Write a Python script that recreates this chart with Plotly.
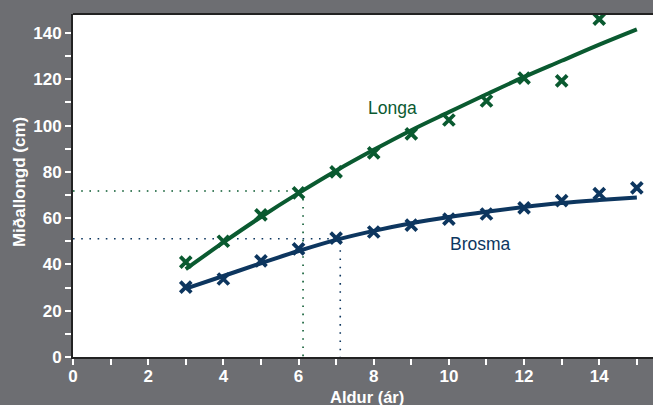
import plotly.graph_objects as go

# Data
ages = [3, 4, 5, 6, 7, 8, 9, 10, 11, 12, 13, 14]
longa_obs = [41, 50, 61.4, 70.9, 80, 88.2, 96.4, 102.4, 110.6, 120.5, 119.3, 146]
ages_b = [3, 4, 5, 6, 7, 8, 9, 10, 11, 12, 13, 14, 15]
brosma_obs = [30.2, 33.7, 41.5, 46.7, 51.4, 54, 57, 59.6, 61.8, 64.4, 67.6, 70.6, 73.1]

fit_ages = [3, 4, 5, 6, 7, 8, 9, 10, 11, 12, 13, 14, 15]
longa_fit = [38, 49.5, 60.5, 70.8, 80.5, 89.5, 98, 105.8, 113.5, 121, 128, 135, 141.6]
brosma_fit = [29.5, 35, 40.5, 45.8, 50.6, 54.5, 57.8, 60.5, 62.8, 64.8, 66.5, 67.8, 68.9]

longa_ref = (6.12, 71.7)
brosma_ref = (7.11, 51.1)

GREEN = "#0a5a30"
NAVY = "#0d365f"
BG = "#6d6e72"
FONT = "Liberation Sans, Arial, sans-serif"

fig = go.Figure()

# guide lines
for (rx, ry), col in [(longa_ref, GREEN), (brosma_ref, NAVY)]:
    fig.add_trace(go.Scatter(x=[0, rx, rx], y=[ry, ry, 0], mode="lines",
                             line=dict(color=col, width=1.6, dash="1.6px,6.6px"),
                             hoverinfo="skip", showlegend=False))

fig.add_trace(go.Scatter(x=fit_ages, y=longa_fit, mode="lines", line=dict(color=GREEN, width=4, shape="spline"), showlegend=False))
fig.add_trace(go.Scatter(x=fit_ages, y=brosma_fit, mode="lines", line=dict(color=NAVY, width=4, shape="spline"), showlegend=False))
fig.add_trace(go.Scatter(x=ages, y=longa_obs, mode="markers",
                         marker=dict(symbol="x-thin", size=11, line=dict(color=GREEN, width=3.8)), showlegend=False))
fig.add_trace(go.Scatter(x=ages_b, y=brosma_obs, mode="markers",
                         marker=dict(symbol="x-thin", size=11, line=dict(color=NAVY, width=3.8)), showlegend=False))

fig.add_annotation(x=8.5, y=107.5, text="Longa", showarrow=False, font=dict(size=17.5, color=GREEN, family=FONT))
fig.add_annotation(x=10.85, y=49, text="Brosma", showarrow=False, font=dict(size=17.5, color=NAVY, family=FONT))

# axis titles
fig.add_annotation(xref="paper", yref="paper", x=0.507, y=0, yshift=-40, yanchor="middle",
                   text="<b>Aldur (ár)</b>", showarrow=False, font=dict(size=16.5, color="white", family=FONT))
fig.add_annotation(xref="paper", yref="paper", x=0, xshift=-54, y=0.51, xanchor="center", textangle=-90,
                   text="<b>Miðallongd (cm)</b>", showarrow=False, font=dict(size=17, color="white", family=FONT))

fig.add_shape(type="line", xref="paper", yref="paper", x0=0, x1=1, y0=1, y1=1, line=dict(color="#222222", width=2))

tickfont = dict(size=17, color="white", family=FONT)
fig.update_xaxes(range=[0, 15.43], dtick=2, tick0=0, ticks="outside", ticklen=6, tickwidth=2, tickcolor="white",
                 minor=dict(dtick=1, ticks="outside", ticklen=6, tickwidth=2, tickcolor="white"),
                 showline=True, linecolor="#222222", linewidth=2, showgrid=False, zeroline=False,
                 tickfont=tickfont, tickprefix="<b>", ticksuffix="</b>", automargin=False, ticklabelstandoff=-3)
fig.update_yaxes(range=[0, 148.2], dtick=20, tick0=0, ticks="outside", ticklen=6, tickwidth=2, tickcolor="white",
                 minor=dict(dtick=10, ticks="outside", ticklen=6, tickwidth=2, tickcolor="white"),
                 showline=True, linecolor="#222222", linewidth=2, showgrid=False, zeroline=False,
                 tickfont=tickfont, tickprefix="<b>", ticksuffix="</b>", automargin=False)

fig.update_layout(width=653, height=405, margin=dict(l=73, r=0, t=14, b=48),
                  paper_bgcolor=BG, plot_bgcolor="white", showlegend=False)

fig.write_html("out.html", config={"displayModeBar": False, "staticPlot": True})

# remove the default page margin so the figure fills the window exactly
with open("out.html", encoding="utf-8") as f:
    html = f.read()
html = html.replace("<head>", "<head><style>html,body{margin:0;padding:0;overflow:hidden;}</style>", 1)
with open("out.html", "w", encoding="utf-8") as f:
    f.write(html)
